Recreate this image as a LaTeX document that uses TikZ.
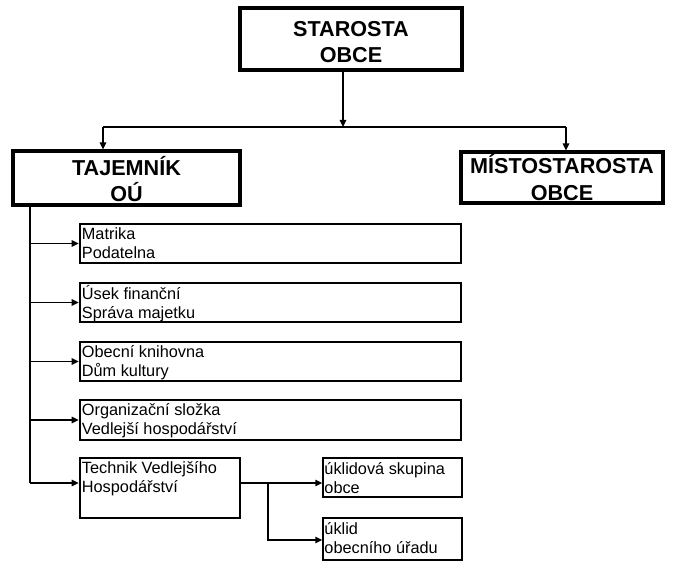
\documentclass[tikz,border=0pt]{standalone}
\usepackage{fontspec}
\setmainfont{Liberation Sans}
\usetikzlibrary{arrows.meta}
\begin{document}
\begin{tikzpicture}[x=1pt,y=-1pt,
  headbox/.style={draw, line width=3.2pt, inner sep=0pt},
  headtext/.style={inner sep=0pt, align=center,
    font=\fontsize{21.6}{26.5}\selectfont\bfseries},
  subbox/.style={draw, line width=2.6pt, inner sep=0pt},
  smallbox/.style={draw, line width=1.5pt, inner sep=0pt},
  boxtext/.style={anchor=north west, inner sep=0pt, align=left,
    font=\fontsize{16.3}{19}\selectfont},
  conn/.style={line width=1.5pt},
  arr/.style={line width=1.5pt, -{Triangle[length=7pt,width=6.5pt]}}
]
\useasboundingbox (0,0) rectangle (675,572);
% header boxes
\node[headbox, minimum width=222pt, minimum height=62pt] (star) at (351,39) {};
\node[headbox, minimum width=227pt, minimum height=54pt] (taj) at (126.5,178) {};
\node[headbox, minimum width=202pt, minimum height=51pt] (mist) at (562,177.5) {};
\node[headtext] (tstar) at ([shift={(0,3)}]star.center) {STAROSTA\\OBCE};
\node[headtext] (ttaj) at ([shift={(0,1)}]taj.center) {TAJEMNÍK\\OÚ};
\node[headtext] (tmist) at ([shift={(0,0)}]mist.center) {MÍSTOSTAROSTA\\OBCE};
% sub boxes
\node[subbox, minimum width=381pt, minimum height=39pt] (matr) at (270.5,243.5) {};
\node[subbox, minimum width=381pt, minimum height=39pt] (usek) at (270.5,302.5) {};
\node[subbox, minimum width=381pt, minimum height=39pt] (knih) at (270.5,361.5) {};
\node[subbox, minimum width=381pt, minimum height=40pt] (org) at (270.5,420) {};
\node[subbox, minimum width=160pt, minimum height=60pt] (tech) at (160,488) {};
\node[smallbox, minimum width=139pt, minimum height=39pt] (uk1) at (392.5,477.5) {};
\node[smallbox, minimum width=139pt, minimum height=42pt] (uk2) at (392.5,539) {};
% texts
\node[boxtext] (tmatr) at ([shift={(3,3.5)}]matr.north west) {\strut Matrika\\Podatelna};
\node[boxtext] (tusek) at ([shift={(3,3.5)}]usek.north west) {\strut Úsek finanční\\Správa majetku};
\node[boxtext] (tknih) at ([shift={(3,3.5)}]knih.north west) {\strut Obecní knihovna\\Dům kultury};
\node[boxtext] (torg) at ([shift={(3,3.5)}]org.north west) {\strut Organizační složka\\Vedlejší hospodářství};
\node[boxtext] (ttech) at ([shift={(3,3.5)}]tech.north west) {\strut Technik Vedlejšího\\Hospodářství};
\node[boxtext] (tuk1) at ([shift={(2,3.5)}]uk1.north west) {\strut úklidová skupina\\obce};
\node[boxtext] (tuk2) at ([shift={(2,3.5)}]uk2.north west) {\strut úklid\\obecního úřadu};
% connectors
\coordinate (busc) at (343,127);
\coordinate (busl) at (103,127);
\coordinate (busr) at (566,127);
\draw[arr] (star.south -| busc) -- (busc);
\draw[conn] (busl) -- (busr);
\draw[arr] (busl) -- (busl |- taj.north);
\draw[arr] (busr) -- (busr |- mist.north);
\coordinate (trunk) at (30,483);
\draw[conn] (taj.south -| trunk) -- (trunk);
\draw[arr] (trunk |- matr.west) -- (matr.west);
\draw[arr] (trunk |- usek.west) -- (usek.west);
\draw[arr] (trunk |- knih.west) -- (knih.west);
\draw[arr] (trunk |- org.west) -- (org.west);
\draw[arr] (trunk) -- (trunk -| tech.west);
\coordinate (branch) at (268,483);
\coordinate (branchend) at (268,540);
\draw[arr] (tech.east |- branch) -- (uk1.west |- branch);
\draw[arr] (branch) -- (branchend) -- (branchend -| uk2.west);
\end{tikzpicture}
\end{document}
